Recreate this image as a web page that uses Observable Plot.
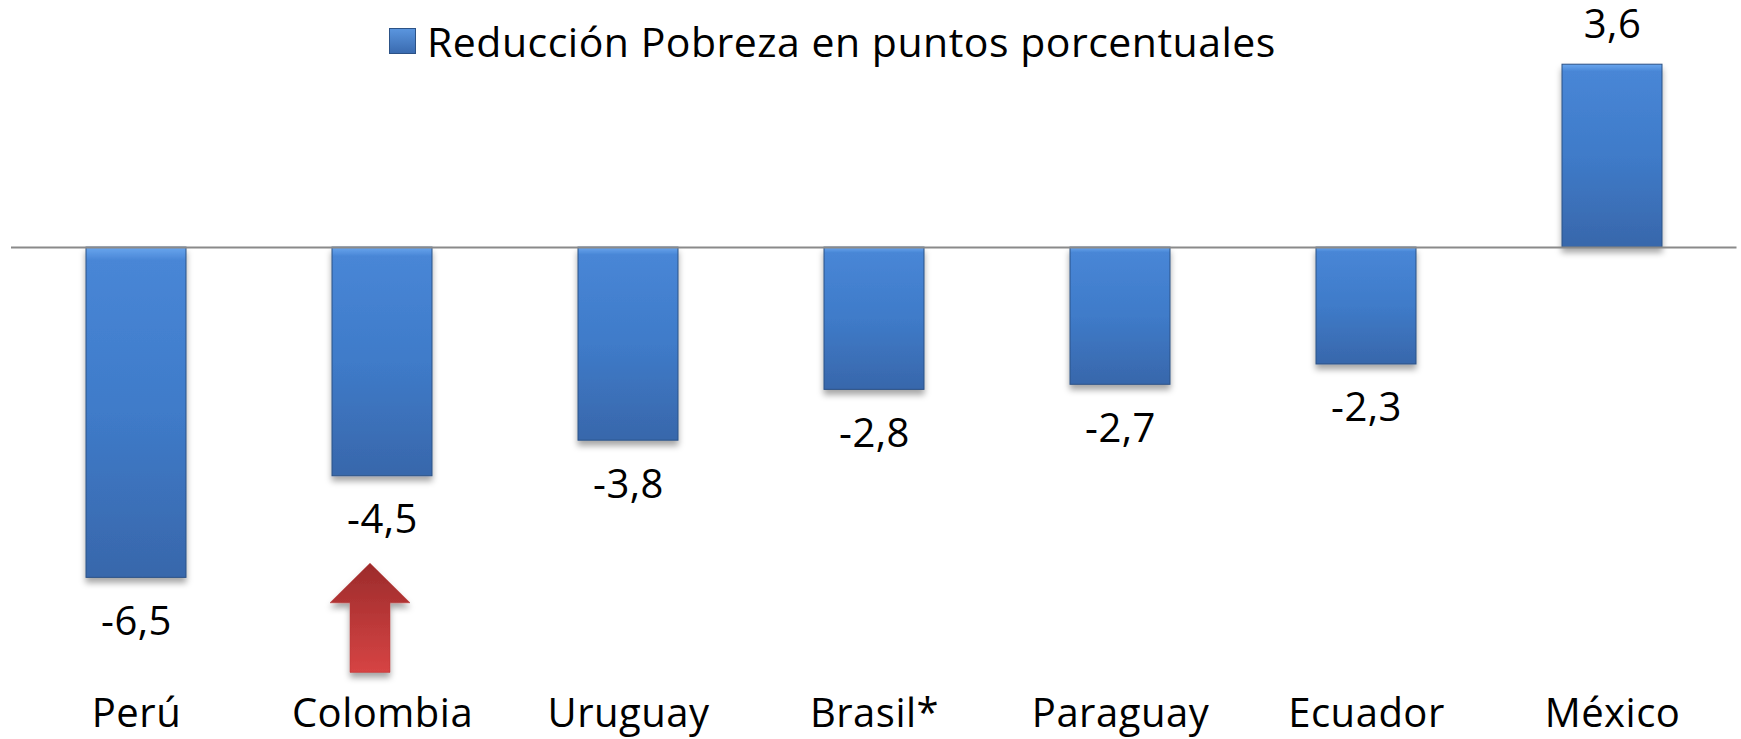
<!DOCTYPE html>
<html>
<head>
<meta charset="utf-8">
<script src="https://cdn.jsdelivr.net/npm/d3@7"></script>
<script src="https://cdn.jsdelivr.net/npm/@observablehq/plot@0.6"></script>
<style>
  html, body { margin: 0; padding: 0; background: #fff; }
  #wrap { position: relative; width: 1741px; height: 739px; font-family: "Open Sans", sans-serif; }
  #legend { position: absolute; left: 389px; top: 13px; display: flex; align-items: center; font-size: 41px; letter-spacing: 0.5px; color: #000; line-height: 56px; }
  #legend .sw { width: 27px; height: 26px; margin-right: 11px; background: linear-gradient(#5a95de, #3a6bb0); border: 1px solid #2c5286; box-sizing: border-box; }
</style>
</head>
<body>
<div id="wrap">
  <div id="chart"></div>
  <div id="legend"><span class="sw"></span><span>Reducción Pobreza en puntos porcentuales</span></div>
</div>
<script>
// Data
const countries = ["Perú", "Colombia", "Uruguay", "Brasil*", "Paraguay", "Ecuador", "México"];
const values = [-6.5, -4.5, -3.8, -2.8, -2.7, -2.3, 3.6];
// Annotation arrow under Colombia (y values in data units)
const arrowCountry = "Colombia";
const arrowTip = -6.22;
const arrowHead = -7.0;
const arrowTail = -8.37;

const data = countries.map((c, i) => ({country: c, value: values[i], label: String(values[i]).replace(".", ",")}));

function arrowMark(index, scales) {
  const x = scales.x, y = scales.y;
  const bw = typeof x.bandwidth === "function" ? x.bandwidth() : (x.bandwidth || 0);
  const cx = x(arrowCountry) + bw * 0.38;
  const sw = bw * 0.2, hw = bw * 0.4;
  const yt = y(arrowTip), yh = y(arrowHead), yb = y(arrowTail);
  const d = `M${cx},${yt}L${cx + hw},${yh}L${cx + sw},${yh}L${cx + sw},${yb}L${cx - sw},${yb}L${cx - sw},${yh}L${cx - hw},${yh}Z`;
  return d3.create("svg:path")
    .attr("d", d)
    .attr("fill", "url(#arrowGrad)")
    .attr("stroke", "#b73636")
    .attr("stroke-width", 0.5)
    .attr("filter", "url(#shadow)")
    .node();
}

const chart = Plot.plot({
  width: 1741,
  height: 739,
  marginLeft: 11,
  marginRight: 4.5,
  marginTop: 20,
  marginBottom: 60,
  style: {fontFamily: "Open Sans, sans-serif", letterSpacing: "0.5px", color: "#000", background: "transparent", overflow: "visible"},
  x: {domain: countries, paddingInner: 0.594, paddingOuter: 0.297, label: null},
  y: {domain: [-8.5, 4.47], axis: null},
  marks: [
    Plot.barY(data, {x: "country", y: "value", fill: "url(#barGrad)", stroke: "#2c5286", strokeWidth: 1}),
    Plot.ruleY([0], {stroke: "#8a8a8a", strokeWidth: 2}),
    Plot.text(data.filter(d => d.value < 0), {x: "country", y: "value", text: "label", dy: 44, lineAnchor: "middle", fontSize: 40, fill: "#000"}),
    Plot.text(data.filter(d => d.value >= 0), {x: "country", y: "value", text: "label", dy: -40, lineAnchor: "middle", fontSize: 40, fill: "#000"}),
    Plot.axisX({tickSize: 0, tickPadding: 19, fontSize: 40, label: null, fill: "#000"}),
    arrowMark
  ]
});

const svg = d3.select(chart);
const defs = svg.insert("defs", ":first-child");
const bg = defs.append("linearGradient").attr("id", "barGrad").attr("x1", 0).attr("y1", 0).attr("x2", 0).attr("y2", 1);
bg.append("stop").attr("offset", "0%").attr("stop-color", "#6aa6ee");
bg.append("stop").attr("offset", "4%").attr("stop-color", "#4886d6");
bg.append("stop").attr("offset", "50%").attr("stop-color", "#3f7bc9");
bg.append("stop").attr("offset", "100%").attr("stop-color", "#3867ab");
const ag = defs.append("linearGradient").attr("id", "arrowGrad").attr("x1", 0).attr("y1", 0).attr("x2", 0).attr("y2", 1);
ag.append("stop").attr("offset", "0%").attr("stop-color", "#9c2b2b");
ag.append("stop").attr("offset", "100%").attr("stop-color", "#d64444");
const f = defs.append("filter").attr("id", "shadow").attr("x", "-20%").attr("y", "-20%").attr("width", "140%").attr("height", "140%");
f.append("feDropShadow").attr("dx", 0).attr("dy", 5).attr("stdDeviation", 3).attr("flood-color", "#000").attr("flood-opacity", 0.35);
svg.selectAll("rect").attr("filter", "url(#shadow)");

document.getElementById("chart").appendChild(chart);
</script>
</body>
</html>
